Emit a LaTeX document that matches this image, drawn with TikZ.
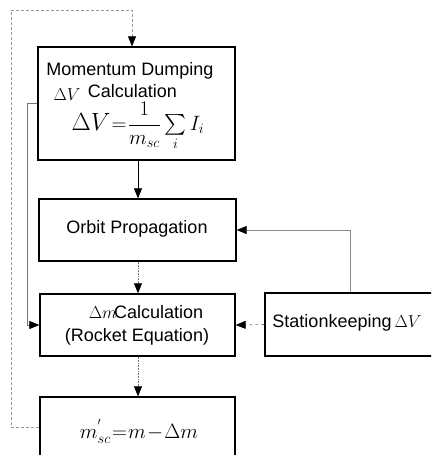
\documentclass[tikz,border=0pt]{standalone}
\usepackage{amsmath}
\usepackage{fontspec}
\setmainfont{Liberation Sans}
\usetikzlibrary{arrows.meta}
\tikzset{
  box/.style={draw=black, line width=1.3pt, rectangle, inner sep=0pt},
  lbl/.style={font=\fontsize{18}{21}\selectfont, inner sep=0pt, anchor=center},
  blbl/.style={font=\fontsize{18}{21}\selectfont, inner sep=0pt, anchor=base},
  mlbl/.style={font=\fontsize{20}{24}\selectfont, inner sep=0pt, anchor=base},
  conn/.style={draw=black!55, line width=0.6pt},
  arr/.style={conn, -{Triangle[length=10pt,width=8pt,fill=black,color=black]}},
}
\begin{document}
\begin{tikzpicture}[x=1pt,y=-1pt]
\useasboundingbox (0,0) rectangle (431,455);
\clip (0,0) rectangle (431,455);
% boxes
\node[box, minimum width=197pt, minimum height=113pt] (b1) at (136.5,103.5) {};
\node[box, minimum width=197pt, minimum height=62pt] (b2) at (137.5,230) {};
\node[box, minimum width=195pt, minimum height=62pt] (b3) at (137.5,325) {};
\node[box, minimum width=180pt, minimum height=63pt] (b4) at (355,324.5) {};
\node[box, minimum width=195pt, minimum height=76pt] (b5) at (137.5,435) {};
% texts
\node[blbl] (t1) at (130,75) {Momentum Dumping};
\node[mlbl, font=\fontsize{19}{22}\selectfont] (t2a) at (67,100) {$\Delta V$};
\node[blbl] (t2b) at (132.5,97) {Calculation};
\node[mlbl] (t3) at (138,130) {$\medmuskip=1mu\thickmuskip=1mu \text{\fontsize{23}{26}\selectfont$\Delta V$}=\genfrac{}{}{0.5pt}{0}{1}{m_{sc}}\textstyle\sum\limits_{i} I_i$};
\node[lbl] (t4) at (137,229) {Orbit Propagation};
\node[lbl] (t5) at (146,312) {$\Delta m$\hspace{-3pt}Calculation};
\node[lbl] (t6) at (137,337) {(Rocket Equation)};
\node[lbl] (t7) at (347,323) {Stationkeeping\,$\Delta V$};
\node[mlbl, font=\fontsize{21}{24}\selectfont] (t8) at (139,438) {$\medmuskip=1mu\thickmuskip=1mu m^{'}_{sc}=m-\Delta m$};
% helper coordinates
\coordinate (lpy) at (0,427);
\coordinate (lc) at (11,10);
\coordinate (tc) at (132,10);
\coordinate (ic) at (27,103);
\coordinate (sk) at (350,0);
\coordinate (ax) at (138,0);
% connectors
\draw[arr, draw=black!40, densely dashed] (b5.west |- lpy) -| (lc) -- (tc) -- (tc |- b1.north);
\draw[arr] (b1.west |- ic) -- (ic) |- (b3.west);
\draw[arr, draw=black] (b1.south -| ax) -- (b2.north -| ax);
\draw[arr, densely dotted] (b2.south -| ax) -- (b3.north -| ax);
\draw[arr, densely dotted] (b3.south -| ax) -- (b5.north -| ax);
\draw[arr, dashed] (b4.west) -- (b3.east);
\draw[arr, draw=black!45] (b4.north -| sk) |- (b2.east);
\end{tikzpicture}
\end{document}
